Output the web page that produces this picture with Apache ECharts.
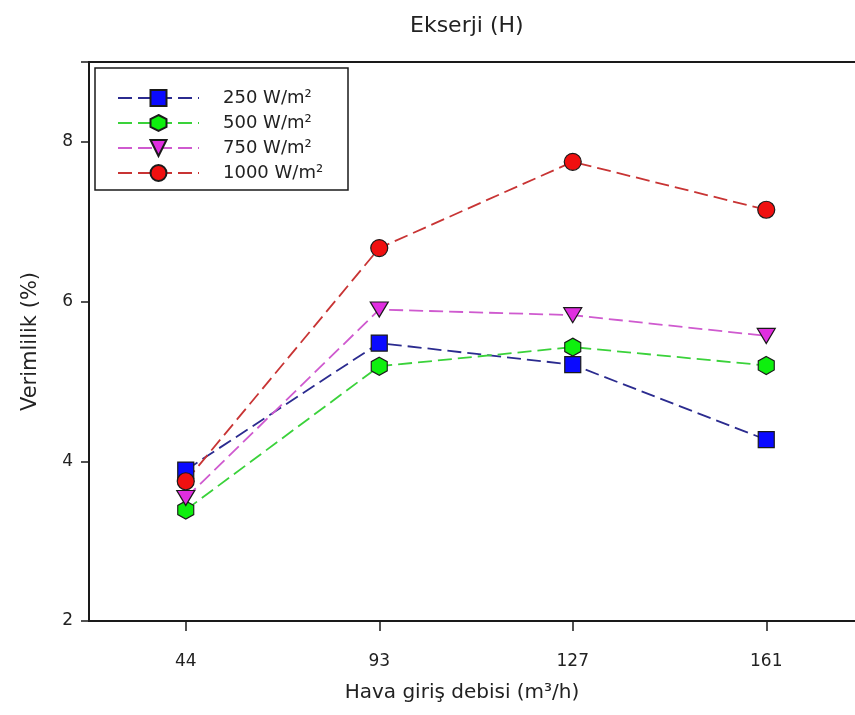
<!DOCTYPE html>
<html>
<head>
<meta charset="utf-8">
<script src="https://cdn.jsdelivr.net/npm/echarts@6/dist/echarts.min.js"></script>
<style>html,body{margin:0;padding:0;background:#fff}#c{width:855px;height:715px}</style>
</head>
<body>
<div id="c"></div>
<script>
const categories = ['44', '93', '127', '161'];
const seriesNames = ['250 W/m²', '500 W/m²', '750 W/m²', '1000 W/m²'];
const s250 = [3.89, 5.48, 5.21, 4.27];
const s500 = [3.39, 5.19, 5.43, 5.20];
const s750 = [3.54, 5.90, 5.83, 5.57];
const s1000 = [3.75, 6.67, 7.75, 7.15];
const yTicks = [2, 4, 6, 8];

const hexagon = 'path://M0,-1L0.866,-0.5L0.866,0.5L0,1L-0.866,0.5L-0.866,-0.5Z';
const FONT = 'DejaVu Sans, Liberation Sans, sans-serif';

function mk(name, data, symbol, fill, lineColor, size, rotate) {
  return {
    name: name, type: 'line', data: data,
    symbol: symbol, symbolSize: size, symbolRotate: rotate || 0,
    lineStyle: { color: lineColor, width: 1.8, type: [14, 6] },
    itemStyle: { color: fill, borderColor: '#1a1a1a', borderWidth: 1.2 },
    emphasis: { disabled: true },
    z: 3
  };
}

const chart = echarts.init(document.getElementById('c'));
chart.setOption({
  animation: false,
  backgroundColor: '#ffffff',
  title: {
    text: 'Ekserji (H)', left: 405, top: 10,
    textStyle: { fontFamily: FONT, fontSize: 22, fontWeight: 'normal', color: '#222' }
  },
  grid: {
    left: 89, right: -8, top: 62, bottom: 94,
    outerBoundsMode: 'none', containLabel: false,
    show: true, borderColor: '#1a1a1a', borderWidth: 2
  },
  graphic: [{
    type: 'rect', shape: { x: 95, y: 68, width: 253, height: 122 },
    style: { fill: '#fff', stroke: '#1a1a1a', lineWidth: 1.5 }, z: 5
  }],
  legend: {
    orient: 'vertical', left: 112, top: 84, z: 10,
    itemWidth: 81, itemHeight: 20, itemGap: 7,
    data: seriesNames,
    textStyle: { fontFamily: FONT, fontSize: 18, color: '#222', padding: [0, 0, 0, 19] }
  },
  xAxis: {
    type: 'category', data: categories, boundaryGap: true,
    name: 'Hava giriş debisi (m³/h)', nameLocation: 'middle', nameGap: 62,
    nameTextStyle: { fontFamily: FONT, fontSize: 20, color: '#222', padding: [0, 28, 0, 0] },
    axisLine: { lineStyle: { color: '#1a1a1a', width: 2 } },
    axisTick: { show: true, alignWithLabel: true, length: 10, inside: false, lineStyle: { color: '#1a1a1a', width: 1.5 } },
    axisLabel: { fontFamily: FONT, fontSize: 17, color: '#222', margin: 32 },
    splitLine: { show: false }
  },
  yAxis: {
    type: 'value', min: 2, max: 9, interval: 2,
    name: 'Verimlilik (%)', nameLocation: 'middle', nameGap: 48,
    nameTextStyle: { fontFamily: FONT, fontSize: 21, color: '#222' },
    axisLine: { show: true, lineStyle: { color: '#1a1a1a', width: 2 } },
    axisTick: { show: true, length: 8, lineStyle: { color: '#1a1a1a', width: 1.5 } },
    axisLabel: {
      fontFamily: FONT, fontSize: 17, color: '#222', margin: 16,
      formatter: function (v) { return yTicks.indexOf(v) >= 0 ? String(v) : ''; }
    },
    splitLine: { show: false }
  },
  series: [
    mk(seriesNames[0], s250, 'rect', '#0a0aff', '#2b2b8f', 16),
    mk(seriesNames[1], s500, hexagon, '#0ef00e', '#3ad23a', [16, 18]),
    mk(seriesNames[2], s750, 'triangle', '#e02ee0', '#cf5acf', [18, 15], 180),
    mk(seriesNames[3], s1000, 'circle', '#f01010', '#c83434', 17)
  ]
});
</script>
</body>
</html>
